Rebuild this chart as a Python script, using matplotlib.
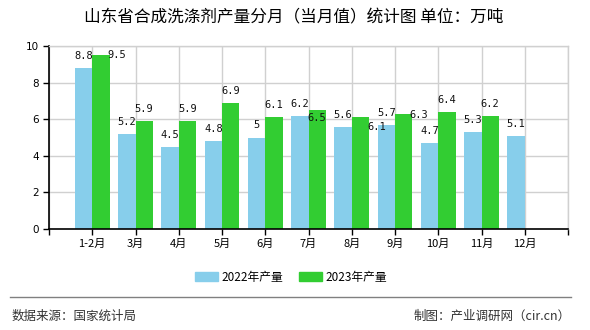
import numpy as np
import matplotlib
matplotlib.use("Agg")
import matplotlib.pyplot as plt
from matplotlib.patches import Patch
from matplotlib.lines import Line2D

plt.rcParams['font.family'] = ['Noto Sans CJK SC', 'DejaVu Sans']

# data
months = ["1-2月", "3月", "4月", "5月", "6月", "7月", "8月", "9月", "10月", "11月", "12月"]
prod_2022 = [8.8, 5.2, 4.5, 4.8, 5, 6.2, 5.6, 5.7, 4.7, 5.3, 5.1]
prod_2023 = [9.5, 5.9, 5.9, 6.9, 6.1, 6.5, 6.1, 6.3, 6.4, 6.2, None]
y_ticks = [0, 2, 4, 6, 8, 10]

# label nudges (pixels) where the original chart moved overlapping labels
nudge_2023 = [(16, -12), (0, 0), (0, 0), (0, 0), (0, 0), (0, -20),
              (16, -22), (15, -13), (0, 0), (0, 0), (0, 0)]

blue = "#87CEEB"
green = "#32CD32"
grid_col = "#d0d0d0"

fig = plt.figure(figsize=(5.9, 3.3), dpi=100)
ax = fig.add_axes([49 / 590, 1 - 229 / 330, 519 / 590, 183 / 330])

x = np.arange(1, len(months) + 1)
w = 0.4
ax.bar(x - w / 2, prod_2022, width=w, color=blue, zorder=2)
x23 = [xi for xi, v in zip(x, prod_2023) if v is not None]
v23 = [v for v in prod_2023 if v is not None]
ax.bar(np.array(x23) + w / 2, v23, width=w, color=green, zorder=2)

lab_font = dict(family="DejaVu Sans Mono", fontsize=7.5, color="#111111")
for xi, v in zip(x, prod_2022):
    ax.annotate(f"{v:g}", (xi - w / 2, v), xytext=(0, 12), textcoords="offset pixels",
                ha="center", va="center", zorder=4, **lab_font)
for xi, v, (dx, dy) in zip(x23, v23, nudge_2023):
    ax.annotate(f"{v:g}", (xi + w / 2, v), xytext=(dx, 12 + dy), textcoords="offset pixels",
                ha="center", va="center", zorder=4, **lab_font)

ax.set_xlim(0, 12)
ax.set_ylim(0, 10)
ax.set_yticks(y_ticks)
ax.set_yticklabels([str(t) for t in y_ticks], family="DejaVu Sans", fontsize=7.5)
ax.set_xticks(np.arange(0, 13))
ax.set_xticklabels([""] + months + [""], fontsize=8)

ax.grid(True, color=grid_col, linewidth=1, zorder=0)
ax.set_axisbelow(True)
for s in ["top", "right"]:
    ax.spines[s].set_color(grid_col)
    ax.spines[s].set_linewidth(1)
for s in ["left", "bottom"]:
    ax.spines[s].set_color("black")
    ax.spines[s].set_linewidth(1.2)
ax.tick_params(axis="both", direction="out", length=4, width=1, colors="black", pad=3)

fig.text(294 / 590, 1 - 18 / 330, "山东省合成洗涤剂产量分月（当月值）统计图 单位：万吨",
         ha="center", va="center", fontsize=12, color="black")

handles = [Patch(color=blue, label="2022年产量"), Patch(color=green, label="2023年产量")]
fig.legend(handles=handles, loc="center", bbox_to_anchor=(291 / 590, 1 - 277 / 330),
           ncol=2, frameon=False, fontsize=8.5, handlelength=1.9, handleheight=0.7,
           columnspacing=1.4, handletextpad=0.3)

fig.add_artist(Line2D([10 / 590, 571 / 590], [1 - 297 / 330] * 2, color="#808080", linewidth=1))
fig.text(12 / 590, 1 - 316 / 330, "数据来源：国家统计局", ha="left", va="center",
         fontsize=9, color="#333333")
fig.text(571 / 590, 1 - 316 / 330, "制图：产业调研网（cir.cn）", ha="right", va="center",
         fontsize=9, color="#333333")

fig.savefig("out.png", dpi=100)
